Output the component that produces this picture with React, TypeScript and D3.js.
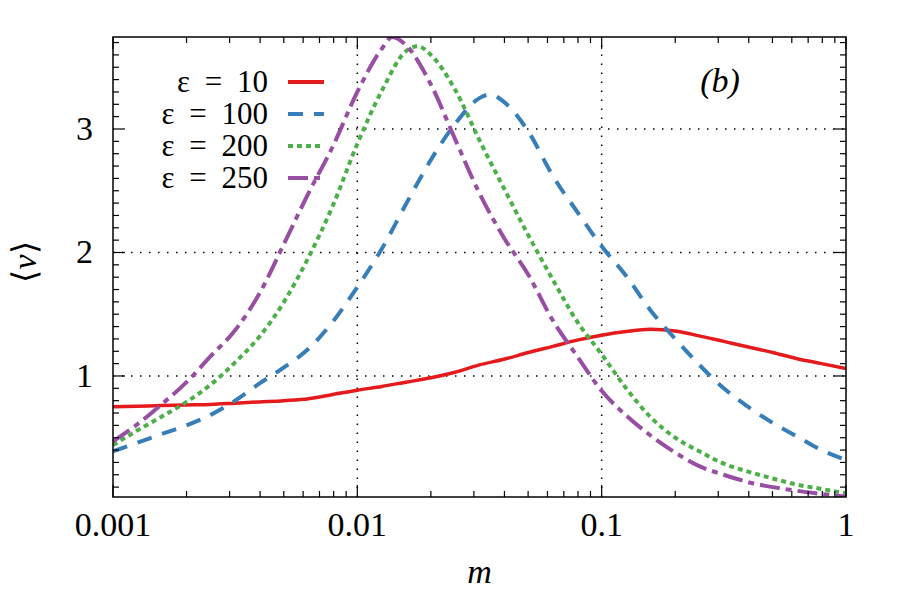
import React from "react";
import * as d3 from "d3";

// m on the x axis (log scale), <v> on the y axis
const mGrid = [
  0.001, 0.00126, 0.00158, 0.002, 0.00251, 0.00316, 0.00398, 0.00501, 0.00631, 0.00794,
  0.01, 0.0126, 0.0158, 0.02, 0.0251, 0.0316, 0.0398, 0.0501, 0.0631, 0.0794,
  0.1, 0.126, 0.158, 0.2, 0.251, 0.316, 0.398, 0.501, 0.631, 0.794, 1,
];

const eps10 = [
  0.75, 0.755, 0.76, 0.765, 0.77, 0.78, 0.79, 0.8, 0.815, 0.85,
  0.885, 0.915, 0.95, 0.985, 1.03, 1.09, 1.135, 1.19, 1.24, 1.29,
  1.33, 1.36, 1.378, 1.365, 1.325, 1.28, 1.235, 1.19, 1.14, 1.1, 1.06,
];
const eps100 = [
  0.39, 0.46, 0.53, 0.6, 0.685, 0.8, 0.94, 1.07, 1.22, 1.44,
  1.72, 2.03, 2.39, 2.75, 3.04, 3.25, 3.22, 2.98, 2.62, 2.33,
  2.05, 1.81, 1.535, 1.3, 1.09, 0.9, 0.75, 0.62, 0.51, 0.4, 0.32,
];
const eps200 = [
  0.44, 0.56, 0.67, 0.79, 0.93, 1.11, 1.32, 1.6, 1.96, 2.38,
  2.88, 3.31, 3.63, 3.6, 3.32, 2.91, 2.52, 2.14, 1.78, 1.44,
  1.175, 0.9, 0.67, 0.5, 0.39, 0.29, 0.225, 0.17, 0.12, 0.085, 0.05,
];
const eps250 = [
  0.47, 0.61, 0.77, 0.95, 1.16, 1.37, 1.67, 2.07, 2.48, 2.86,
  3.3, 3.65, 3.68, 3.36, 2.92, 2.48, 2.12, 1.82, 1.45, 1.16,
  0.88, 0.68, 0.52, 0.38, 0.27, 0.2, 0.14, 0.1, 0.07, 0.045, 0.022,
];

// extra points at the maxima
const peak100 = { m: 0.0349, v: 3.28 };
const peak200 = { m: 0.0177, v: 3.67 };
const peak250 = { m: 0.0139, v: 3.745 };

const labels = ["10", "100", "200", "250"];
const colors = ["#e41a1c", "#377eb8", "#4daf4a", "#984ea3"];
const dashes = ["", "15,11", "5,4", "20,6,6,6"];

const yMajor = [1, 2, 3];
const xMajor = [0.001, 0.01, 0.1, 1];
const xMajorLabels = ["0.001", "0.01", "0.1", "1"];

const W = 897;
const H = 598;
const margin = { left: 113, right: 51, top: 37, bottom: 101 };
const FONT = "Liberation Serif";

const withPeak = (vals: number[], peak?: { m: number; v: number }) => {
  const pts = mGrid.map((m, i) => ({ m, v: vals[i] }));
  if (peak) pts.push(peak);
  return pts.sort((a, b) => a.m - b.m);
};

const App = () => {
  const x = d3.scaleLog().domain([0.001, 1]).range([margin.left, W - margin.right]);
  const y = d3.scaleLinear().domain([0.02, 3.745]).range([H - margin.bottom, margin.top]);

  const x0 = margin.left;
  const x1 = W - margin.right;
  const y0 = H - margin.bottom;
  const y1 = margin.top;

  const series = [
    withPeak(eps10),
    withPeak(eps100, peak100),
    withPeak(eps200, peak200),
    withPeak(eps250, peak250),
  ];

  const line = d3
    .line<{ m: number; v: number }>()
    .x((d) => x(d.m))
    .y((d) => y(d.v))
    .curve(d3.curveMonotoneX);

  // minor ticks
  const xMinor: number[] = [];
  [0.001, 0.01, 0.1].forEach((dec) => {
    for (let k = 2; k <= 9; k++) xMinor.push(dec * k);
  });
  const yMinor = d3.range(1, 38).map((k) => k / 10).filter((v) => Math.abs(v - Math.round(v)) > 1e-6);

  const legendY = [82, 114, 146, 178];
  const txt = { fontFamily: FONT };

  return (
    <svg
      width={W}
      height={H}
      style={{ position: "absolute", left: 0, top: 0, background: "#fff", fontFamily: FONT }}
    >
      <defs>
        <clipPath id="plotClip">
          <rect x={x0} y={y1} width={x1 - x0} height={y0 - y1} />
        </clipPath>
      </defs>

      {/* grid */}
      <g stroke="#000" strokeWidth={1.5} strokeDasharray="1.5,7.5">
        {[0.01, 0.1].map((m) => (
          <line key={m} x1={x(m)} x2={x(m)} y1={y0} y2={y1} />
        ))}
        {yMajor.map((v) => (
          <line key={v} x1={x0} x2={x1} y1={y(v)} y2={y(v)} />
        ))}
      </g>

      {/* key box */}
      <rect x={x0 + 1} y={y1 + 1} width={224} height={158} fill="#fff" />
      {labels.map((lab, i) => (
        <g key={lab}>
          <text
            x={268}
            y={legendY[i] + 10}
            textAnchor="end"
            fontSize={31}
            style={{ ...txt, wordSpacing: "7px" }}
          >
            ε = {lab}
          </text>
          <line
            x1={288}
            x2={324}
            y1={legendY[i]}
            y2={legendY[i]}
            stroke={colors[i]}
            strokeWidth={4}
            strokeDasharray={dashes[i] || undefined}
          />
        </g>
      ))}

      {/* curves */}
      <g clipPath="url(#plotClip)" fill="none">
        {series.map((pts, i) => (
          <path
            key={i}
            d={line(pts) || ""}
            stroke={colors[i]}
            strokeWidth={i === 0 ? 3.5 : 4}
            strokeDasharray={dashes[i] || undefined}
          />
        ))}
      </g>

      {/* ticks, all four sides, inward */}
      <g stroke="#000" strokeWidth={1.2}>
        {xMajor.map((m) => (
          <g key={"xM" + m}>
            <line x1={x(m)} x2={x(m)} y1={y0} y2={y0 - 12} />
            <line x1={x(m)} x2={x(m)} y1={y1} y2={y1 + 12} />
          </g>
        ))}
        {xMinor.map((m) => (
          <g key={"xm" + m}>
            <line x1={x(m)} x2={x(m)} y1={y0} y2={y0 - 6} />
            <line x1={x(m)} x2={x(m)} y1={y1} y2={y1 + 6} />
          </g>
        ))}
        {yMajor.map((v) => (
          <g key={"yM" + v}>
            <line x1={x0} x2={x0 + 12} y1={y(v)} y2={y(v)} />
            <line x1={x1} x2={x1 - 12} y1={y(v)} y2={y(v)} />
          </g>
        ))}
        {yMinor.map((v) => (
          <g key={"ym" + v}>
            <line x1={x0} x2={x0 + 6} y1={y(v)} y2={y(v)} />
            <line x1={x1} x2={x1 - 6} y1={y(v)} y2={y(v)} />
          </g>
        ))}
      </g>

      {/* frame */}
      <rect x={x0} y={y1} width={x1 - x0} height={y0 - y1} fill="none" stroke="#000" strokeWidth={1.5} />

      {/* tick labels */}
      {xMajor.map((m, i) => (
        <text key={"xl" + m} x={x(m)} y={y0 + 39} textAnchor="middle" fontSize={34} style={txt}>
          {xMajorLabels[i]}
        </text>
      ))}
      {yMajor.map((v) => (
        <text key={"yl" + v} x={x0 - 20} y={y(v) + 11} textAnchor="end" fontSize={34} style={txt}>
          {v}
        </text>
      ))}

      {/* axis titles */}
      <text x={(x0 + x1) / 2} y={583} textAnchor="middle" fontSize={34} fontStyle="italic" style={txt}>
        m
      </text>
      <text transform={`translate(36,${262}) rotate(-90)`} textAnchor="middle" fontSize={34} style={txt}>
        ⟨<tspan fontStyle="italic">v</tspan>⟩
      </text>

      <text x={720} y={92} textAnchor="middle" fontSize={34} fontStyle="italic" style={txt}>
        (b)
      </text>
    </svg>
  );
};

export default App;
